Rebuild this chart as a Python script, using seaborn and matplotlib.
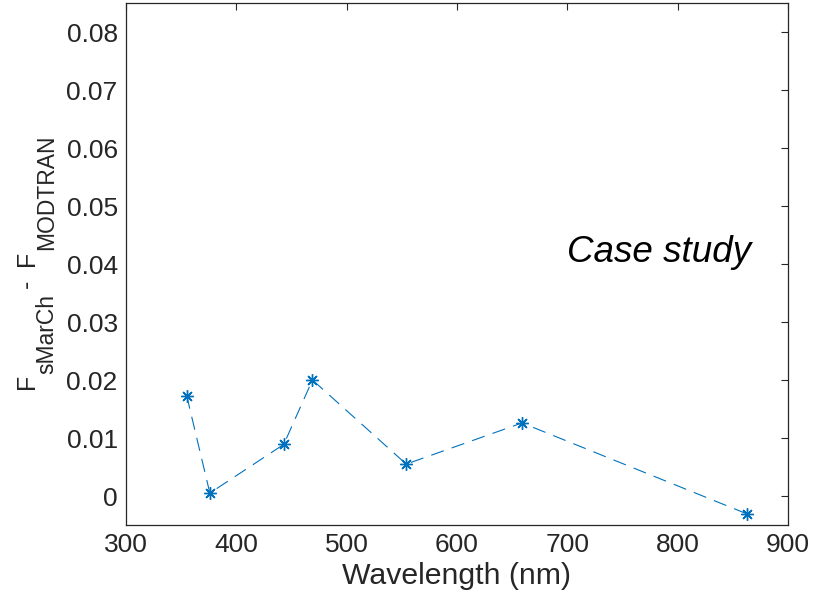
import numpy as np
import pandas as pd
import matplotlib
matplotlib.use("Agg")
import matplotlib.pyplot as plt
import seaborn as sns

wavelength = [355, 376, 443, 469, 554, 659, 863]
diff = [0.0173, 0.0005, 0.0089, 0.0200, 0.0055, 0.0126, -0.0031]
xticks = [300, 400, 500, 600, 700, 800, 900]
yticks = [0, 0.01, 0.02, 0.03, 0.04, 0.05, 0.06, 0.07, 0.08]
ytick_labels = ["0", "0.01", "0.02", "0.03", "0.04", "0.05", "0.06", "0.07", "0.08"]
annotation = "Case study"
xlabel = "Wavelength (nm)"
# y label pieces: (text, is_subscript)
ylabel_parts = [("F", False), ("sMarCh", True), ("-", False), ("F", False), ("MODTRAN", True)]

sns.set_style("white")
plt.rcParams["font.family"] = ["Liberation Sans", "DejaVu Sans"]

df = pd.DataFrame({"wavelength": wavelength, "diff": diff})

W, H = 821, 595
fig = plt.figure(figsize=(W / 100, H / 100), dpi=100)
ax = fig.add_axes([126 / W, 1 - 525 / H, (788 - 126) / W, (525 - 3) / H])

color = "#0072BD"
sns.lineplot(data=df, x="wavelength", y="diff", ax=ax, color=color,
             linewidth=0.8, marker=(8, 2, 0), markersize=9,
             markeredgewidth=1.0, markeredgecolor=color, sort=False)
line = ax.lines[0]
line.set_dashes((12, 7.5))

ax.set_xlim(300, 900)
ax.set_ylim(-0.005, 0.085)
ax.set_xticks(xticks)
ax.set_yticks(yticks)
ax.set_yticklabels(ytick_labels)
ax.set_ylabel("")

tc = "#262626"
for s in ax.spines.values():
    s.set_visible(True)
    s.set_color(tc)
    s.set_linewidth(0.9)
ax.tick_params(direction="in", length=5, width=0.8, colors=tc,
               labelsize=19, top=True, right=True, labelcolor=tc, pad=6)

ax.set_xlabel(xlabel, fontsize=21.8, color=tc, labelpad=3.5)

ax.text(700, 0.0403, annotation, fontsize=26.5, style="italic", color="black",
        ha="left", va="baseline")

# Composite rotated y label (MATLAB-style subscripts)
fs_main, fs_sub = 18, 16.5
x_main, x_sub = 34, 53          # baseline x positions in px
renderer = fig.canvas.get_renderer()
texts = []
for txt, sub in ylabel_parts:
    t = fig.text(0, 0, txt, fontsize=fs_sub if sub else fs_main, color=tc,
                 rotation=90, rotation_mode="anchor", ha="left", va="baseline")
    texts.append((t, sub))
lengths = [t.get_window_extent(renderer).height for t, _ in texts]
gaps = [0, 0, 6, 14, 0]
total = sum(lengths) + sum(gaps)
center_y = H - 262
y = center_y - total / 2
for (t, sub), L, g in zip(texts, lengths, gaps):
    y += g
    xb = x_sub if sub else x_main
    t.set_position((xb / W, y / H))
    y += L

fig.savefig("out.png", dpi=100)
